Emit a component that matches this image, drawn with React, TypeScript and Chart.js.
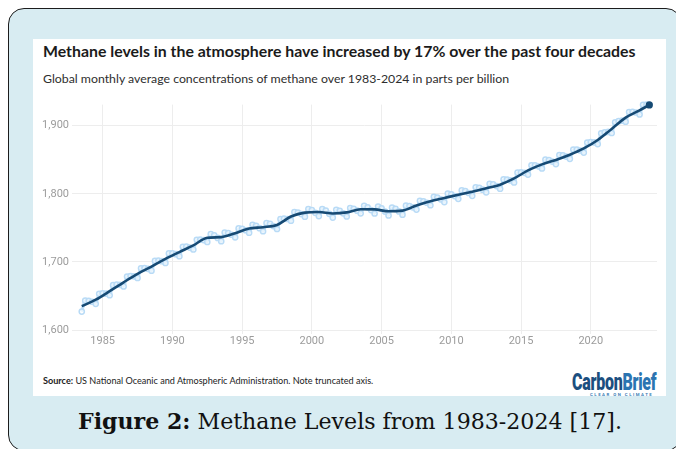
import React, { useEffect, useRef } from "react";
import { Chart, registerables } from "chart.js";

Chart.register(...registerables);

// ---- data ----
const xTickYears = [1985, 1990, 1995, 2000, 2005, 2010, 2015, 2020];
const yTickValues = [1600, 1700, 1800, 1900];

// smoothed trend (ppb)
const trendYears = [
  1983.5, 1984.5, 1985.5, 1986.5, 1987.5, 1988.5, 1989.5, 1990.5, 1991.5, 1992.5,
  1993.5, 1994.5, 1995.5, 1996.5, 1997.5, 1998.5, 1999.5, 2000.5, 2001.5, 2002.5,
  2003.5, 2004.5, 2005.5, 2006.5, 2007.5, 2008.5, 2009.5, 2010.5, 2011.5, 2012.5,
  2013.5, 2014.5, 2015.5, 2016.5, 2017.5, 2018.5, 2019.5, 2020.5, 2021.5, 2022.5,
  2023.5, 2024.2,
];
const trendValues = [
  1635, 1644.5, 1657.0, 1670.0, 1682.4, 1693.1, 1704.5, 1714.4, 1724.2, 1735.4,
  1736.4, 1742.1, 1748.9, 1751.0, 1754.3, 1766.6, 1772.4, 1773.3, 1771.1, 1772.7,
  1777.3, 1777.1, 1774.3, 1775.3, 1782.8, 1789.2, 1793.9, 1798.6, 1803.1, 1808.2,
  1813.4, 1822.6, 1834.3, 1843.2, 1849.7, 1857.3, 1866.6, 1879.1, 1895.3, 1911.9,
  1922.6, 1930.5,
];

// seasonal (monthly-average) readings, Jan / Apr / Jul / Oct of each year
const seasonalYears = [
  1983, 1984, 1985, 1986, 1987, 1988, 1989, 1990, 1991, 1992, 1993, 1994, 1995, 1996,
  1997, 1998, 1999, 2000, 2001, 2002, 2003, 2004, 2005, 2006, 2007, 2008, 2009, 2010,
  2011, 2012, 2013, 2014, 2015, 2016, 2017, 2018, 2019, 2020, 2021, 2022, 2023, 2024,
];
const seasonalValues: (number | null)[][] = [
  [null, null, 1627, 1643],
  [1642.8, 1641.5, 1638.5, 1653.1],
  [1653.8, 1653.4, 1651.0, 1665.8],
  [1666.5, 1666.3, 1664.0, 1678.6],
  [1679.2, 1678.8, 1676.4, 1690.5],
  [1690.8, 1689.9, 1687.1, 1701.4],
  [1701.8, 1701.1, 1698.5, 1712.4],
  [1712.5, 1711.3, 1708.4, 1722.2],
  [1722.3, 1721.1, 1718.2, 1732.4],
  [1732.8, 1732.0, 1729.4, 1740.7],
  [1738.9, 1735.2, 1730.4, 1743.1],
  [1742.3, 1739.9, 1736.1, 1749.1],
  [1748.5, 1746.5, 1742.9, 1754.5],
  [1753.0, 1749.6, 1745.0, 1757.0],
  [1755.7, 1752.6, 1748.3, 1762.9],
  [1763.5, 1763.0, 1760.6, 1773.3],
  [1772.5, 1770.2, 1766.4, 1777.7],
  [1775.9, 1772.1, 1767.3, 1777.7],
  [1775.2, 1770.6, 1765.1, 1776.6],
  [1774.9, 1771.4, 1766.7, 1779.0],
  [1778.0, 1775.3, 1771.3, 1782.2],
  [1780.2, 1776.1, 1771.1, 1781.3],
  [1778.7, 1773.9, 1768.3, 1779.6],
  [1777.8, 1774.1, 1769.3, 1782.5],
  [1782.1, 1780.2, 1776.8, 1789.7],
  [1789.0, 1786.9, 1783.2, 1795.6],
  [1794.6, 1791.9, 1787.9, 1800.3],
  [1799.3, 1796.6, 1792.6, 1804.9],
  [1803.9, 1801.2, 1797.1, 1809.6],
  [1808.7, 1806.1, 1802.2, 1814.7],
  [1813.8, 1811.3, 1807.4, 1821.1],
  [1821.0, 1819.7, 1816.6, 1831.0],
  [1831.5, 1830.8, 1828.3, 1841.9],
  [1841.8, 1840.3, 1837.2, 1850.1],
  [1849.5, 1847.3, 1843.7, 1856.9],
  [1856.5, 1854.7, 1851.3, 1865.0],
  [1865.0, 1863.6, 1860.6, 1875.2],
  [1875.9, 1875.5, 1873.1, 1888.8],
  [1890.2, 1890.9, 1889.3, 1905.1],
  [1906.6, 1907.4, 1905.9, 1920.0],
  [1920.3, 1919.4, 1916.6, 1930.8],
  [1931.0, null, null, null],
];
const quarterOffsets = [0, 0.25, 0.5, 0.75];

const titleText = "Methane levels in the atmosphere have increased by 17% over the past four decades";
const subtitleText = "Global monthly average concentrations of methane over 1983-2024 in parts per billion";

export default function App() {
  const ref = useRef<HTMLCanvasElement | null>(null);

  useEffect(() => {
    if (!ref.current) return;
    const trendPts = trendYears.map((x, i) => ({ x, y: trendValues[i] }));
    const seasonalPts: { x: number; y: number }[] = [];
    seasonalYears.forEach((yr, i) => {
      seasonalValues[i].forEach((v, q) => {
        if (v !== null) seasonalPts.push({ x: yr + quarterOffsets[q], y: v });
      });
    });
    const lastIdx = trendPts.length - 1;

    const chart = new Chart(ref.current, {
      type: "line",
      data: {
        datasets: [
          {
            label: "Trend",
            data: trendPts,
            borderColor: "#164a74",
            backgroundColor: "#164a74",
            borderWidth: 2.6,
            cubicInterpolationMode: "monotone",
            pointRadius: trendPts.map((_, i) => (i === lastIdx ? 3.6 : 0)),
            pointBackgroundColor: "#164a74",
            pointBorderWidth: 0,
            clip: false as any,
          },
          {
            label: "Monthly",
            data: seasonalPts,
            borderColor: "#c1e0f8",
            backgroundColor: "rgba(255,255,255,0.7)",
            borderWidth: 3,
            tension: 0.4,
            pointRadius: 2.6,
            pointBorderWidth: 1.5,
            pointBorderColor: "#b9dbf6",
            pointBackgroundColor: "rgba(255,255,255,0.6)",
            clip: false as any,
          },
        ],
      },
      options: {
        animation: false,
        responsive: false,
        maintainAspectRatio: false,
        layout: { padding: { left: 0, right: 9, top: 8, bottom: 0 } },
        plugins: {
          legend: { display: false },
          tooltip: { enabled: false },
          title: { display: false },
        },
        scales: {
          x: {
            type: "linear",
            min: 1982.8,
            max: 2024.75,
            afterBuildTicks: (axis: any) => {
              axis.ticks = xTickYears.map((v) => ({ value: v }));
            },
            afterFit: (scale: any) => {
              scale.height = 25;
            },
            grid: { color: "#ededed", lineWidth: 1, drawTicks: true, tickLength: 4 },
            border: { display: false },
            ticks: {
              padding: 1,
              color: "#9c9c9c",
              font: { family: "Roboto", size: 11 },
              maxRotation: 0,
              callback: (v: any) => String(v),
            },
          },
          y: {
            type: "linear",
            min: 1600,
            max: 1931,
            afterBuildTicks: (axis: any) => {
              axis.ticks = yTickValues.map((v) => ({ value: v }));
            },
            afterFit: (scale: any) => {
              scale.width = 39;
            },
            grid: { color: "#ededed", lineWidth: 1, drawTicks: false },
            border: { display: false },
            ticks: {
              padding: 3,
              color: "#9c9c9c",
              font: { family: "Roboto", size: 11 },
              callback: (v: any) => Number(v).toLocaleString("en-US"),
            },
          },
        },
      },
    });
    return () => chart.destroy();
  }, []);

  const abs = (left: number, top: number, extra: React.CSSProperties = {}): React.CSSProperties => ({
    position: "absolute",
    left,
    top,
    whiteSpace: "nowrap",
    ...extra,
  });

  return (
    <div style={{ position: "relative", width: 676, height: 441 }}>
      <div
        style={{
          position: "absolute",
          left: 0,
          top: 0,
          width: 674,
          height: 443,
          boxSizing: "border-box",
          border: "1.5px solid #1c1c1c",
          borderRadius: 16,
          background: "#d8ecf2",
        }}
      />
      <div style={abs(25, 31, { width: 633, height: 357, background: "#ffffff" })} />
      <div
        style={abs(35, 32.5, {
          fontFamily: "Lato",
          fontWeight: 700,
          fontSize: 15.85,
          color: "#1b1b1b",
          lineHeight: "normal",
        })}
      >
        {titleText}
      </div>
      <div
        style={abs(35, 62.5, {
          fontFamily: "Lato",
          fontSize: 12.3,
          color: "#2e2e2e",
          lineHeight: "normal",
        })}
      >
        {subtitleText}
      </div>
      <canvas ref={ref} width={633} height={260} style={abs(25, 87, { width: 633, height: 260 })} />
      <div
        style={abs(35, 367, {
          fontFamily: "Lato",
          fontSize: 9.1,
          color: "#222",
          lineHeight: "normal",
        })}
      >
        <b>Source:</b> US National Oceanic and Atmospheric Administration. Note truncated axis.
      </div>
      <div
        style={abs(563.5, 359.5, {
          fontFamily: "Roboto",
          fontWeight: 900,
          fontSize: 23.5,
          lineHeight: "normal",
          letterSpacing: -0.4,
          transform: "scaleX(0.68)",
          transformOrigin: "left top",
        })}
      >
        <span style={{ color: "#1c4f7f" }}>Carbon</span>
        <span style={{ color: "#2b74b1" }}>Brief</span>
      </div>
      <div
        style={abs(582, 383.5, {
          fontFamily: "Roboto",
          fontWeight: 700,
          fontSize: 4.3,
          letterSpacing: 1.5,
          color: "#3a7db5",
          lineHeight: "normal",
        })}
      >
        CLEAR ON CLIMATE
      </div>
      <div
        style={abs(70, 399.5, {
          fontFamily: "DejaVu Serif",
          fontSize: 22.1,
          color: "#111",
          lineHeight: "normal",
        })}
      >
        <b>Figure 2:</b> Methane Levels from 1983-2024 [17].
      </div>
    </div>
  );
}
